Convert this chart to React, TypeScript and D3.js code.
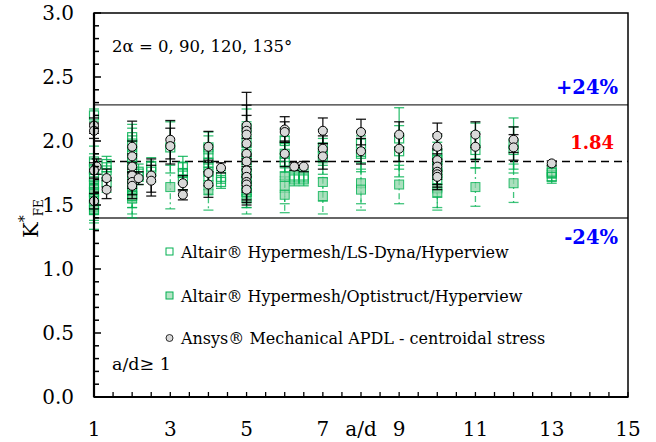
import React from "react";
import * as d3 from "d3";

// ---- Data ----
const xTickValues = [1, 3, 5, 7, 8, 9, 11, 13, 15];
const xTickLabels = ["1", "3", "5", "7", "a/d", "9", "11", "13", "15"];
const yTickValues = [0, 0.5, 1.0, 1.5, 2.0, 2.5, 3.0];

const meanValue = 1.84;
const bandPct = 0.24;

// Altair Hypermesh / LS-Dyna (open squares)
const lsX = [1, 1, 1, 1, 1, 1, 1, 1, 1, 1.33, 1.33, 1.33, 2, 2, 2, 2, 2, 2, 2, 2, 2.17, 2.17, 2.5, 2.5, 3, 3.33, 3.33, 3.33, 4, 4, 4, 4, 4, 4.33, 4.33, 5, 5, 5, 5, 5, 5, 6, 6, 6, 6.25, 6.25, 6.5, 6.5, 7, 7, 8, 8, 9, 9, 10, 10, 10, 10, 10, 11, 11, 12, 12, 13, 13];
const lsY = [2.2, 1.84, 1.78, 1.72, 1.66, 1.6, 1.55, 1.5, 1.46, 1.82, 1.77, 1.68, 2.03, 1.98, 1.92, 1.86, 1.78, 1.7, 1.62, 1.57, 1.76, 1.72, 1.8, 1.76, 1.95, 1.8, 1.75, 1.7, 1.95, 1.9, 1.83, 1.76, 1.7, 1.72, 1.68, 2.1, 2.0, 1.9, 1.8, 1.7, 1.6, 2.0, 1.9, 1.84, 1.73, 1.7, 1.73, 1.7, 1.95, 1.88, 1.98, 1.9, 2.02, 1.92, 1.9, 1.85, 1.8, 1.75, 1.7, 2.0, 1.93, 1.98, 1.93, 1.76, 1.72];
const lsErr = [0.05, 0.12, 0.12, 0.14, 0.12, 0.14, 0.12, 0.12, 0.15, 0.06, 0.06, 0.08, 0.1, 0.12, 0.12, 0.14, 0.14, 0.14, 0.14, 0.17, 0.06, 0.06, 0.07, 0.08, 0.2, 0.08, 0.08, 0.08, 0.12, 0.14, 0.14, 0.14, 0.12, 0.05, 0.05, 0.15, 0.15, 0.15, 0.15, 0.15, 0.12, 0.1, 0.14, 0.14, 0.05, 0.05, 0.05, 0.05, 0.14, 0.14, 0.1, 0.14, 0.24, 0.2, 0.14, 0.14, 0.14, 0.14, 0.14, 0.14, 0.14, 0.2, 0.18, 0.05, 0.05];

// Altair Hypermesh / Optistruct (filled squares)
const osX = [1, 1, 1, 2, 2, 2, 3, 4, 5, 5, 5, 5, 5, 6, 6, 6, 7, 7, 8, 8, 9, 10, 10, 11, 12, 13];
const osY = [1.62, 1.55, 1.48, 1.62, 1.58, 1.55, 1.64, 1.62, 1.75, 1.7, 1.65, 1.6, 1.55, 1.72, 1.65, 1.58, 1.68, 1.57, 1.67, 1.62, 1.66, 1.63, 1.6, 1.64, 1.67, 1.75];
const osErr = [0.12, 0.12, 0.12, 0.1, 0.1, 0.12, 0.17, 0.16, 0.12, 0.12, 0.12, 0.12, 0.12, 0.12, 0.14, 0.14, 0.15, 0.14, 0.16, 0.16, 0.15, 0.15, 0.14, 0.15, 0.15, 0.06];

// Ansys Mechanical APDL - centroidal stress (circles)
const anX = [1, 1, 1.07, 1, 1, 1.33, 1.33, 2, 2, 2, 2, 2, 2, 2.17, 2.5, 2.5, 3, 3, 3.33, 3.33, 4, 4, 4, 4.33, 5, 5, 5, 5, 5, 5, 5, 5, 5, 5, 5, 6, 6, 6, 6.25, 6.5, 7, 7, 7, 8, 8, 9, 9, 10, 10, 10, 10, 10, 10, 10, 11, 11, 12, 12, 13];
const anY = [2.12, 2.08, 1.8, 1.77, 1.53, 1.71, 1.62, 1.955, 1.88, 1.8, 1.73, 1.68, 1.65, 1.71, 1.73, 1.69, 2.01, 1.96, 1.67, 1.58, 1.955, 1.75, 1.66, 1.79, 2.12, 2.08, 2.05, 1.98, 1.9, 1.84, 1.77, 1.72, 1.68, 1.66, 1.62, 2.09, 2.07, 1.9, 1.8, 1.8, 2.08, 1.94, 1.88, 2.07, 1.92, 2.05, 1.94, 2.04, 1.955, 1.85, 1.8, 1.76, 1.74, 1.72, 2.05, 1.955, 2.01, 1.95, 1.825];
const anErr = [0.06, 0.06, 0.06, 0.06, 0.06, 0.07, 0.07, 0.2, 0.12, 0.1, 0.1, 0.1, 0.1, 0.05, 0.13, 0.12, 0.15, 0.14, 0.06, 0.04, 0.12, 0.1, 0.1, 0.04, 0.26, 0.2, 0.15, 0.12, 0.12, 0.12, 0.12, 0.12, 0.14, 0.14, 0.12, 0.1, 0.08, 0.1, 0.03, 0.04, 0.1, 0.1, 0.1, 0.1, 0.1, 0.1, 0.1, 0.1, 0.1, 0.08, 0.1, 0.1, 0.1, 0.1, 0.1, 0.1, 0.1, 0.1, 0.02];

const legendLabels = [
  "Altair® Hypermesh/LS-Dyna/Hyperview",
  "Altair® Hypermesh/Optistruct/Hyperview",
  "Ansys® Mechanical APDL - centroidal stress",
];

const W = 656;
const H = 442;
const M = { left: 94, right: 628, top: 13, bottom: 397 };
const FONT = "'DejaVu Serif', serif";
const GREEN = "#00b050";

export default function App() {
  const x = d3.scaleLinear().domain([1, 15]).range([M.left, M.right]);
  const y = d3.scaleLinear().domain([0, 3]).range([M.bottom, M.top]);

  const yMinor = d3.range(0, 3.0001, 0.1);
  const xMinor = d3.range(1, 15.0001, 0.5);

  const errBar = (
    xs: number[], ys: number[], es: number[], color: string, dash: string | undefined, op: number, key: string
  ) =>
    xs.map((xv, i) => {
      const cx = x(xv);
      const y1 = y(ys[i] + es[i]);
      const y2 = y(ys[i] - es[i]);
      return (
        <g key={key + i} stroke={color} strokeOpacity={op} strokeWidth={1.3}>
          <line x1={cx} x2={cx} y1={y1} y2={y2} strokeDasharray={dash} />
          <line x1={cx - 5} x2={cx + 5} y1={y1} y2={y1} />
          <line x1={cx - 5} x2={cx + 5} y1={y2} y2={y2} />
        </g>
      );
    });

  const upper = meanValue * (1 + bandPct);
  const lower = meanValue * (1 - bandPct);
  const tStyle = { fontFamily: FONT };

  return (
    <svg width={W} height={H} style={{ position: "absolute", left: 0, top: 0, background: "#fff", fontFamily: FONT }}>
      {/* reference lines */}
      <line x1={M.left} x2={M.right} y1={y(upper)} y2={y(upper)} stroke="#333" strokeWidth={1.3} />
      <line x1={M.left} x2={M.right} y1={y(lower)} y2={y(lower)} stroke="#333" strokeWidth={1.3} />
      <line x1={M.left} x2={M.right} y1={y(meanValue)} y2={y(meanValue)} stroke="#000" strokeWidth={1.3} strokeDasharray="8,5" />

      {/* green error bars */}
      {errBar(osX, osY, osErr, GREEN, "6,3,2,3", 0.75, "oe")}
      {errBar(lsX, lsY, lsErr, GREEN, undefined, 0.8, "le")}

      {/* optistruct filled squares */}
      {osX.map((xv, i) => (
        <rect key={"os" + i} x={x(xv) - 4.5} y={y(osY[i]) - 4.5} width={9} height={9}
          fill="#8fd4a8" fillOpacity={0.75} stroke={GREEN} strokeOpacity={0.8} strokeWidth={1} />
      ))}
      {/* ls-dyna open squares */}
      {lsX.map((xv, i) => (
        <rect key={"ls" + i} x={x(xv) - 4.5} y={y(lsY[i]) - 4.5} width={9} height={9}
          fill="none" stroke={GREEN} strokeOpacity={0.85} strokeWidth={1.2} />
      ))}

      {/* black error bars */}
      {errBar(anX, anY, anErr, "#000", undefined, 0.9, "ae")}
      {anX.map((xv, i) => (
        <circle key={"an" + i} cx={x(xv)} cy={y(anY[i])} r={4.5} fill="#d9d9d9" stroke="#000" strokeWidth={1} />
      ))}

      {/* frame */}
      <rect x={M.left} y={M.top} width={M.right - M.left} height={M.bottom - M.top} fill="none" stroke="#000" strokeWidth={1.5} />
      <line x1={M.left} x2={M.left} y1={M.top} y2={M.bottom} stroke="#000" strokeWidth={2.2} />
      <line x1={M.left} x2={M.right} y1={M.bottom} y2={M.bottom} stroke="#000" strokeWidth={2.2} />

      {/* y ticks */}
      {yMinor.map((v, i) => {
        const major = i % 5 === 0;
        return <line key={"ym" + i} x1={M.left} x2={M.left + (major ? 7 : 5)} y1={y(v)} y2={y(v)} stroke="#000" strokeWidth={1.5} />;
      })}
      {yTickValues.map((v) => (
        <text key={"yl" + v} style={tStyle} x={74} y={y(v)} dy="0.36em" textAnchor="end" fontSize={20}>{d3.format(".1f")(v)}</text>
      ))}

      {/* x ticks */}
      {xMinor.map((v, i) => (
        <line key={"xm" + i} x1={x(v)} x2={x(v)} y1={M.bottom} y2={M.bottom - 5} stroke="#000" strokeWidth={1.3} />
      ))}
      {xTickValues.map((v, i) => (
        <text key={"xl" + i} style={tStyle} x={x(v)} y={436} textAnchor="middle" fontSize={20}>{xTickLabels[i]}</text>
      ))}

      {/* y label */}
      <text style={tStyle} transform="translate(38,238) rotate(-90)" fontSize={21}>
        <tspan>K</tspan>
        <tspan fontSize={14} dy={-9}>*</tspan>
        <tspan fontSize={12} dy={14} dx={-1}>FE</tspan>
      </text>

      {/* annotations */}
      <text style={tStyle} x={112} y={52} fontSize={16.5}>2α = 0, 90, 120, 135°</text>
      <text style={tStyle} x={112} y={370} fontSize={17.5}>a/d≥ 1</text>
      <text style={tStyle} x={618} y={94} textAnchor="end" fontSize={19.5} fontWeight="bold" fill="#0000ff">+24%</text>
      <text style={tStyle} x={614} y={149} textAnchor="end" fontSize={18} fontWeight="bold" fill="#ff0000">1.84</text>
      <text style={tStyle} x={618} y={244} textAnchor="end" fontSize={19.5} fontWeight="bold" fill="#0000ff">-24%</text>

      {/* legend */}
      <g>
        <rect x={166} y={248} width={7} height={7} fill="none" stroke={GREEN} strokeWidth={1} />
        <text style={tStyle} x={181} y={258} fontSize={16}>{legendLabels[0]}</text>
        <rect x={166} y={292} width={7} height={7} fill="#b7e4c6" stroke={GREEN} strokeWidth={1} />
        <text style={tStyle} x={181} y={302} fontSize={16}>{legendLabels[1]}</text>
        <circle cx={169.5} cy={338} r={3.5} fill="#d9d9d9" stroke="#000" strokeWidth={0.8} />
        <text style={tStyle} x={181} y={344} fontSize={16}>{legendLabels[2]}</text>
      </g>
    </svg>
  );
}
